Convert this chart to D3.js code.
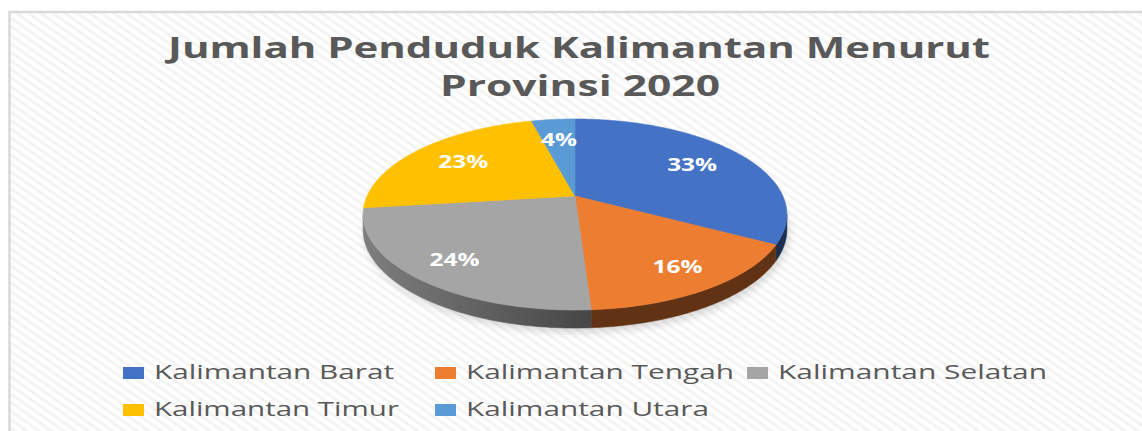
<!DOCTYPE html>
<html><head><meta charset="utf-8">
<script src="https://cdn.jsdelivr.net/npm/d3@7"></script>
<style>html,body{margin:0;padding:0;background:#fff;overflow:hidden}svg{display:block}</style>
</head><body>
<svg id="chart" width="1142" height="431"></svg>
<script>
// ---- data ----
const categories = ["Kalimantan Barat", "Kalimantan Tengah", "Kalimantan Selatan", "Kalimantan Timur", "Kalimantan Utara"];
const shares = [33, 16, 24, 23, 4];
const sliceColors = ["#4472c4", "#ed7d31", "#a5a5a5", "#ffc000", "#5b9bd5"];
const titleLines = ["Jumlah Penduduk Kalimantan Menurut", "Provinsi 2020"];

// ---- layout ----
const W = 1142, H = 431;
const svg = d3.select("#chart");
const defs = svg.append("defs");

// background hatch
const pat = defs.append("pattern").attr("id", "hatch").attr("patternUnits", "userSpaceOnUse")
  .attr("width", 7).attr("height", 7).attr("patternTransform", "rotate(35)");
pat.append("rect").attr("width", 7).attr("height", 7).attr("fill", "#ffffff");
pat.append("rect").attr("width", 7).attr("height", 3).attr("fill", "#f4f4f4");

svg.append("rect").attr("width", W).attr("height", H).attr("fill", "#fff");
svg.append("rect").attr("x", 9.5).attr("y", 12).attr("width", W + 20).attr("height", H + 20)
  .attr("fill", "url(#hatch)").attr("stroke", "#d9d9d9").attr("stroke-width", 2.5);

// title
const titleG = svg.append("g").attr("font-family", "'Open Sans', sans-serif")
  .attr("font-weight", 700).attr("font-size", 28).attr("fill", "#595959");
const titleSpec = [{x: 579, y: 58, w: 822}, {x: 580, y: 96, w: 280}];
titleLines.forEach((t, i) => {
  titleG.append("text").attr("x", titleSpec[i].x - titleSpec[i].w / 2).attr("y", titleSpec[i].y)
    .attr("textLength", titleSpec[i].w).attr("lengthAdjust", "spacingAndGlyphs").text(t);
});

// ---- 3D perspective pie ----
const P = {cx: 575, cy: 196, D: 5.162, F: 1073, G: 474.5, T: 75};
function proj(theta, f = 1, drop = 0) {
  const u = f * Math.sin(theta), v = -f * Math.cos(theta);
  const d = P.D - v;
  return [P.cx + P.F * u / d, P.cy + P.G * v / d + drop * P.T / d];
}
function arcPts(a0, a1, drop) {
  const n = Math.max(2, Math.ceil(Math.abs(a1 - a0) / (Math.PI / 360)));
  const pts = [];
  for (let i = 0; i <= n; i++) pts.push(proj(a0 + (a1 - a0) * i / n, 1, drop));
  return pts;
}
const line = d3.line();

const pie = d3.pie().sort(null).startAngle(0).endAngle(2 * Math.PI);
const arcs = pie(shares);
const total = d3.sum(shares);
const pct = d3.format(".0%");

// soft shadow
const blur = defs.append("filter").attr("id", "sh").attr("x", "-20%").attr("y", "-20%").attr("width", "140%").attr("height", "140%");
blur.append("feGaussianBlur").attr("stdDeviation", 4);
svg.append("path").attr("d", line(arcPts(0, 2 * Math.PI, 1)) + "Z")
  .attr("transform", "translate(2,4)").attr("fill", "#000").attr("opacity", 0.16).attr("filter", "url(#sh)");

// wall lighting gradient per slice (lighter towards the left)
arcs.forEach((a, i) => {
  const c = d3.color(sliceColors[i]);
  const g = defs.append("linearGradient").attr("id", "wall" + i).attr("gradientUnits", "userSpaceOnUse")
    .attr("x1", 363).attr("x2", 600).attr("y1", 0).attr("y2", 0);
  g.append("stop").attr("offset", 0).attr("stop-color", c.darker(0.75).formatHex());
  g.append("stop").attr("offset", 1).attr("stop-color", c.darker(2.5).formatHex());
});

// visible (front-facing) wall range
const s0 = Math.acos(-1 / P.D), s1 = 2 * Math.PI - s0;
const wallG = svg.append("g");
arcs.forEach((a, i) => {
  const a0 = Math.max(a.startAngle, s0), a1 = Math.min(a.endAngle, s1);
  if (a1 <= a0) return;
  const top = arcPts(a0, a1, 0), bot = arcPts(a1, a0, 1);
  wallG.append("path").attr("d", line(top.concat(bot)) + "Z")
    .attr("fill", `url(#wall${i})`).attr("stroke", `url(#wall${i})`).attr("stroke-width", 0.6);
});

// top faces
const topG = svg.append("g");
arcs.forEach((a, i) => {
  const pts = [proj(0, 0)].concat(arcPts(a.startAngle, a.endAngle, 0));
  topG.append("path").attr("d", line(pts) + "Z").attr("fill", sliceColors[i])
    .attr("stroke", sliceColors[i]).attr("stroke-width", 0.6);
});

// labels
const labelG = svg.append("g").attr("font-family", "'Open Sans', sans-serif").attr("font-weight", 700)
  .attr("font-size", 17).attr("fill", "#fff").attr("text-anchor", "middle");
arcs.forEach((a, i) => {
  const mid = (a.startAngle + a.endAngle) / 2;
  const f = -Math.cos(mid) > 0 ? 0.8 : 0.7;
  const [x, y] = proj(mid, f, 0);
  const t = pct(a.value / total);
  labelG.append("text").attr("x", x).attr("y", y + 6)
    .attr("textLength", t.length * 14 + 8).attr("lengthAdjust", "spacingAndGlyphs").text(t);
});

// legend
const legendPos = [[123, 379], [435, 379], [747, 379], [123, 416], [435, 416]];
const legendW = [240, 268, 269, 245, 243];
const legG = svg.append("g").attr("font-family", "'Open Sans', sans-serif").attr("font-size", 20).attr("fill", "#595959");
categories.forEach((c, i) => {
  const [x, y] = legendPos[i];
  legG.append("rect").attr("x", x).attr("y", y - 12).attr("width", 21).attr("height", 12).attr("fill", sliceColors[i]);
  legG.append("text").attr("x", x + 31).attr("y", y).attr("textLength", legendW[i])
    .attr("lengthAdjust", "spacingAndGlyphs").text(c);
});
</script>
</body></html>
